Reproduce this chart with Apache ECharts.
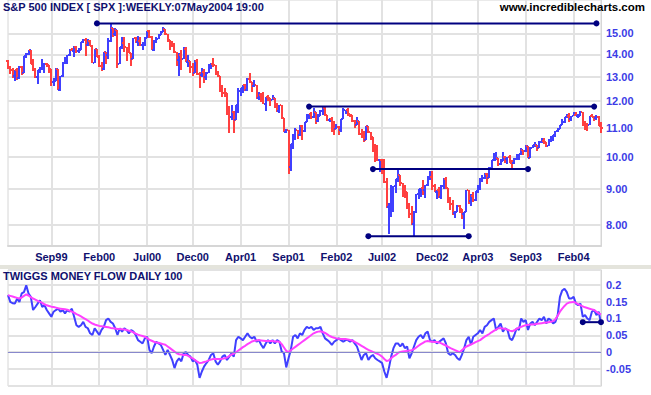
<!DOCTYPE html>
<html><head><meta charset="utf-8">
<script src="https://cdn.jsdelivr.net/npm/echarts@6/dist/echarts.min.js"></script>
<style>html,body{margin:0;padding:0;background:#fff}#c{width:651px;height:395px}</style>
</head><body><div id="c"></div><script>
// ---- data (S&P 500 weekly, shown in hundreds) ----
const firstWeek = '1999-05-14';
const weekCount = 261;
const open = [13.70,13.38,13.30,13.02,13.28,12.94,13.43,13.15,13.91,14.03,14.19,13.57,13.29,13.00,13.28,13.37,13.48,13.57,13.52,13.35,12.77,12.83,13.36,12.47,13.02,13.63,13.70,13.96,14.22,14.17,14.33,14.17,14.21,14.58,
14.69,14.42,14.65,14.41,13.60,14.24,13.87,13.46,13.33,14.09,13.95,14.65,15.28,14.99,15.16,13.57,14.35,14.52,14.33,14.21,14.07,13.78,14.77,14.57,14.65,14.42,14.55,14.79,15.10,14.80,14.20,14.63,14.72,14.92,15.07,15.21,14.95,14.66,14.49,14.37,14.09,13.74,13.97,13.80,14.27,13.66,13.68,13.42,13.15,13.70,13.12,13.06,
13.20,12.98,13.18,13.42,13.55,13.50,13.15,13.02,12.46,12.34,12.33,11.51,11.40,11.60,11.28,11.84,12.43,12.53,12.67,12.46,12.92,12.78,12.61,12.65,12.14,12.25,12.24,11.91,12.16,12.11,12.06,12.14,11.90,11.62,11.85,11.34,10.86,10.93,9.66,10.41,10.71,10.92,10.74,11.05,10.87,11.20,11.39,11.50,11.39,11.58,11.23,11.45,
11.61,11.72,11.46,11.28,11.33,11.22,10.96,11.04,10.90,11.32,11.64,11.66,11.49,11.47,11.23,11.11,11.25,10.76,10.73,10.55,11.07,10.84,10.67,10.28,10.07,9.89,9.90,9.89,9.21,8.48,8.53,8.64,9.09,9.29,9.41,9.16,8.94,8.90,8.45,8.27,8.01,8.35,8.84,8.98,9.01,8.95,9.10,9.31,9.36,9.07,8.90,8.96,
8.75,9.09,9.28,9.02,8.61,8.56,8.30,8.35,8.51,8.41,8.29,8.33,8.96,8.64,8.79,8.68,8.94,8.99,9.30,9.33,9.44,9.33,9.64,9.88,9.89,9.96,9.76,9.86,9.98,9.93,9.99,9.80,9.78,9.91,9.93,10.08,10.21,10.19,10.36,9.97,10.30,10.38,10.39,10.29,10.51,10.53,10.50,10.35,10.58,10.62,10.74,10.89,
10.96,11.09,11.22,11.40,11.42,11.31,11.43,11.46,11.44,11.45,11.57,11.21,11.10,11.08,11.42,11.39,11.35,11.41,11.07];
const high = [13.76,13.47,13.40,13.30,13.40,13.49,13.49,13.93,14.06,14.21,14.19,13.80,13.38,13.30,13.45,13.80,13.60,13.62,13.53,13.35,12.95,13.37,13.36,13.05,13.65,13.87,13.98,14.24,14.30,14.40,14.38,14.28,14.60,14.73,
14.78,14.73,14.66,14.42,14.25,14.27,13.95,13.67,14.10,14.09,14.77,15.53,15.28,15.27,15.16,14.35,14.83,14.81,14.33,14.55,14.07,14.78,14.80,14.88,14.80,14.58,14.80,15.12,15.17,14.85,14.66,14.80,14.97,15.12,15.30,15.21,14.95,14.66,14.65,14.54,14.09,14.08,14.18,14.33,14.34,13.95,13.68,13.60,13.76,13.80,13.20,13.40,
13.35,13.20,13.55,13.60,13.84,13.52,13.27,13.02,12.67,12.54,12.33,11.80,11.85,11.61,11.84,12.53,12.54,12.67,12.70,12.95,13.15,12.78,12.86,12.65,12.35,12.34,12.36,12.18,12.25,12.12,12.26,12.14,11.92,11.86,11.85,11.35,10.96,10.93,10.41,10.76,10.99,10.93,11.11,11.10,11.21,11.50,11.52,11.57,11.73,11.58,11.50,11.64,
11.76,11.76,11.47,11.37,11.40,11.23,11.13,11.05,11.32,11.73,11.67,11.73,11.52,11.47,11.29,11.39,11.26,10.94,10.88,11.07,11.07,10.86,10.68,10.42,10.40,9.93,9.94,9.92,9.33,8.58,9.12,9.09,9.30,9.65,9.42,9.16,9.12,8.91,8.58,8.49,8.36,8.85,8.98,9.01,9.25,9.11,9.38,9.55,9.54,9.14,8.97,9.05,
9.11,9.32,9.35,9.02,8.75,8.66,8.36,8.54,8.52,8.42,8.35,8.96,8.96,8.85,8.90,8.94,9.12,9.31,9.40,9.47,9.48,9.66,9.90,10.12,10.15,9.96,9.94,10.15,10.02,10.00,10.05,9.90,9.95,10.10,10.08,10.30,10.22,10.40,10.36,10.33,10.40,10.48,10.40,10.53,10.62,10.63,10.50,10.60,10.71,10.75,10.89,10.98,
11.11,11.31,11.41,11.51,11.56,11.43,11.59,11.58,11.51,11.63,11.58,11.24,11.16,11.44,11.51,11.43,11.48,11.43,11.19];
const low = [13.33,13.12,12.97,12.81,12.86,12.90,13.08,13.15,13.85,13.98,13.55,13.24,12.94,12.68,13.18,13.30,13.16,13.45,13.18,12.62,12.60,12.82,12.45,12.40,13.00,13.55,13.55,13.93,14.14,13.86,14.04,14.04,14.19,14.54,
13.92,14.38,14.40,13.59,13.60,13.86,13.45,13.25,13.31,13.55,13.80,14.60,14.84,14.86,13.39,13.57,14.25,14.13,13.68,14.04,13.46,13.78,14.52,14.39,14.40,14.22,14.40,14.78,14.77,14.18,14.14,14.53,14.71,14.90,15.05,14.92,14.60,14.20,14.32,14.05,13.47,13.05,13.30,13.80,13.64,13.42,13.16,13.05,13.15,13.10,12.54,13.00,
12.75,12.88,13.16,13.35,13.45,13.10,12.98,12.37,12.15,12.18,11.48,10.81,11.30,10.81,11.27,11.55,12.20,12.32,12.40,12.40,12.75,12.35,12.56,12.10,12.05,11.97,11.90,11.63,12.00,11.83,12.05,11.75,11.60,11.55,11.32,10.85,10.81,9.45,9.55,10.27,10.56,10.61,10.71,10.55,10.85,11.20,11.31,11.33,11.35,11.15,11.20,11.43,
11.48,11.42,11.23,11.21,10.83,10.75,10.95,10.75,10.85,11.31,11.50,11.45,11.40,11.20,11.00,11.10,10.75,10.63,10.48,10.55,10.80,10.55,10.17,9.82,9.85,9.52,9.46,9.17,8.46,7.75,8.20,8.34,8.86,9.19,9.07,8.75,8.73,8.43,8.17,7.98,7.68,8.30,8.70,8.77,8.82,8.72,9.08,9.27,8.95,8.89,8.71,8.73,
8.69,9.00,9.00,8.60,8.40,8.26,8.17,8.33,8.31,8.15,7.89,8.33,8.55,8.50,8.62,8.65,8.88,8.96,9.19,9.28,9.15,9.33,9.60,9.85,9.88,9.70,9.72,9.85,9.80,9.76,9.78,9.60,9.76,9.90,9.90,10.04,10.05,10.17,9.96,9.95,10.28,10.32,10.18,10.29,10.45,10.44,10.31,10.35,10.50,10.53,10.68,10.85,
10.96,11.08,11.18,11.37,11.22,11.24,11.42,11.42,11.36,11.43,11.06,10.91,10.87,11.08,11.38,11.25,11.30,11.07,10.80];
const close = [13.38,13.30,13.02,13.28,12.94,13.43,13.15,13.91,14.03,14.19,13.57,13.29,13.00,13.28,13.37,13.48,13.57,13.52,13.35,12.77,12.83,13.36,12.47,13.02,13.63,13.70,13.96,14.22,14.17,14.33,14.17,14.21,14.58,14.69,
14.42,14.65,14.41,13.60,14.24,13.87,13.46,13.33,14.09,13.95,14.65,15.28,14.99,15.16,13.57,14.35,14.52,14.33,14.21,14.07,13.78,14.77,14.57,14.65,14.42,14.55,14.79,15.10,14.80,14.20,14.63,14.72,14.92,15.07,15.21,14.95,14.66,14.49,14.37,14.09,13.74,13.97,13.80,14.27,13.66,13.68,13.42,13.15,13.70,13.12,13.06,13.20,
12.98,13.18,13.42,13.55,13.50,13.15,13.02,12.46,12.34,12.33,11.51,11.40,11.60,11.28,11.84,12.43,12.53,12.67,12.46,12.92,12.78,12.61,12.65,12.14,12.25,12.24,11.91,12.16,12.11,12.06,12.14,11.90,11.62,11.85,11.34,10.86,10.93,9.66,10.41,10.71,10.92,10.74,11.05,10.87,11.20,11.39,11.50,11.39,11.58,11.23,11.45,11.61,
11.72,11.46,11.28,11.33,11.22,10.96,11.04,10.90,11.32,11.64,11.66,11.49,11.47,11.23,11.11,11.25,10.76,10.73,10.55,11.07,10.84,10.67,10.28,10.07,9.89,9.90,9.89,9.21,8.48,8.53,8.64,9.09,9.29,9.41,9.16,8.94,8.90,8.45,8.27,8.01,8.35,8.84,8.98,9.01,8.95,9.10,9.31,9.36,9.07,8.90,8.96,8.75,
9.09,9.28,9.02,8.61,8.56,8.30,8.35,8.51,8.41,8.29,8.33,8.96,8.64,8.79,8.68,8.94,8.99,9.30,9.33,9.44,9.33,9.64,9.88,9.89,9.96,9.76,9.86,9.98,9.93,9.99,9.80,9.78,9.91,9.93,10.08,10.21,10.19,10.36,9.97,10.30,10.38,10.39,10.29,10.51,10.53,10.50,10.35,10.58,10.62,10.74,10.89,10.96,
11.09,11.22,11.40,11.42,11.31,11.43,11.46,11.44,11.45,11.57,11.21,11.10,11.08,11.42,11.39,11.35,11.41,11.07,10.99];
// Twiggs Money Flow (one reading per week) and its moving average
const tmf = [0.169,0.149,0.145,0.144,0.159,0.149,0.174,0.178,0.198,0.174,0.164,0.125,0.134,0.144,0.154,0.134,0.139,0.125,0.115,0.105,0.120,0.125,0.129,0.120,0.125,0.115,0.125,0.120,0.129,0.105,
0.080,0.075,0.080,0.090,0.075,0.071,0.056,0.051,0.071,0.061,0.051,0.066,0.075,0.095,0.100,0.090,0.085,0.071,0.051,0.071,0.061,0.071,0.066,0.056,0.066,0.061,0.051,0.036,0.031,0.026,
0.041,0.046,0.007,-0.003,0.017,0.031,0.026,0.022,0.007,-0.008,0.007,-0.008,-0.023,-0.047,-0.027,-0.018,-0.027,-0.003,0.000,-0.008,-0.013,-0.027,-0.023,-0.037,-0.076,-0.057,-0.042,-0.032,-0.023,-0.008,
-0.003,-0.027,-0.037,-0.027,-0.013,-0.008,-0.023,-0.013,-0.003,-0.013,0.036,0.046,0.041,0.036,0.046,0.056,0.046,0.041,0.046,0.031,0.036,0.022,0.012,0.026,0.036,0.026,0.036,0.026,0.036,0.031,
0.002,-0.003,-0.045,-0.018,0.007,0.046,0.051,0.041,0.056,0.051,0.066,0.075,0.071,0.075,0.066,0.071,0.071,0.075,0.056,0.041,0.036,0.030,0.022,0.031,0.036,0.041,0.036,0.031,0.036,0.036,
0.031,0.036,0.026,0.017,-0.003,-0.023,-0.008,-0.003,-0.023,-0.013,-0.008,-0.018,-0.023,-0.027,-0.032,-0.057,-0.076,-0.047,-0.013,0.012,0.026,0.026,0.017,0.026,0.012,0.017,-0.018,-0.003,0.017,0.036,
0.046,0.051,0.041,0.056,0.061,0.036,0.031,0.036,0.026,0.031,0.036,0.041,0.026,-0.003,-0.008,-0.003,-0.008,-0.018,-0.023,-0.008,0.012,0.036,0.046,0.022,0.046,0.051,0.056,0.066,0.056,0.075,
0.080,0.090,0.095,0.100,0.066,0.075,0.085,0.061,0.071,0.066,0.041,0.036,0.051,0.071,0.066,0.100,0.090,0.095,0.066,0.085,0.090,0.080,0.090,0.100,0.095,0.105,0.085,0.100,0.095,0.085,
0.090,0.110,0.164,0.183,0.188,0.178,0.159,0.159,0.164,0.144,0.139,0.144,0.105,0.110,0.100,0.095,0.120,0.125,0.110,0.120,0.085];
const tmfMA = [0.169,0.167,0.165,0.163,0.161,0.159,0.162,0.167,0.171,0.168,0.163,0.159,0.156,0.152,0.149,0.146,0.142,0.139,0.137,0.135,0.134,0.132,0.130,0.129,0.128,0.127,0.126,0.123,0.120,0.117,
0.113,0.110,0.106,0.102,0.098,0.094,0.089,0.085,0.082,0.080,0.078,0.077,0.076,0.075,0.074,0.072,0.071,0.070,0.069,0.069,0.068,0.067,0.066,0.064,0.062,0.059,0.055,0.052,0.050,0.048,
0.046,0.042,0.037,0.034,0.031,0.029,0.028,0.026,0.024,0.022,0.017,0.012,0.007,0.002,-0.003,-0.006,-0.007,-0.008,-0.008,-0.011,-0.015,-0.018,-0.023,-0.028,-0.032,-0.031,-0.029,-0.027,-0.024,-0.022,
-0.020,-0.020,-0.020,-0.020,-0.019,-0.018,-0.016,-0.011,-0.007,-0.004,0.000,0.005,0.010,0.015,0.019,0.024,0.028,0.032,0.034,0.035,0.036,0.035,0.034,0.033,0.033,0.033,0.033,0.032,0.032,0.031,
0.024,0.014,0.004,0.000,0.006,0.011,0.016,0.021,0.026,0.031,0.036,0.041,0.046,0.051,0.056,0.059,0.061,0.062,0.060,0.057,0.053,0.048,0.045,0.043,0.041,0.040,0.039,0.039,0.039,0.038,
0.036,0.034,0.031,0.027,0.023,0.019,0.015,0.011,0.007,0.004,0.001,-0.002,-0.005,-0.008,-0.013,-0.020,-0.026,-0.024,-0.018,-0.012,-0.008,-0.002,0.001,0.002,0.003,0.004,0.005,0.006,0.009,0.014,
0.019,0.024,0.028,0.032,0.033,0.032,0.031,0.030,0.030,0.029,0.026,0.023,0.020,0.016,0.012,0.009,0.006,0.003,0.000,0.006,0.012,0.017,0.020,0.023,0.026,0.030,0.033,0.036,0.041,0.046,
0.050,0.054,0.059,0.063,0.067,0.071,0.071,0.070,0.069,0.067,0.064,0.062,0.065,0.069,0.073,0.075,0.078,0.080,0.081,0.082,0.082,0.083,0.084,0.085,0.086,0.087,0.088,0.089,0.090,0.092,
0.098,0.108,0.120,0.129,0.137,0.144,0.147,0.148,0.149,0.146,0.142,0.139,0.136,0.133,0.131,0.129,0.127,0.125,0.120,0.115,0.112];
// axis ticks
const priceTicks = [8, 9, 10, 11, 12, 13, 14, 15];
const priceRange = [7.455, 16.74];
const tmfRange = [-0.1, 0.2435];
const tmfStep = 0.05;
const tickDates = ['1999-09-24','2000-02-18','2000-07-14','2000-12-01','2001-04-27','2001-09-21','2002-02-15','2002-07-05','2002-12-06','2003-04-25','2003-09-19','2004-02-13'];
const tickLabels = ['Sep99','Feb00','Jul00','Dec00','Apr01','Sep01','Feb02','Jul02','Dec02','Apr03','Sep03','Feb04'];
// drawn support / resistance levels: [from week, to week, level]
const priceLevels = [
  ['2000-02-11','2004-04-23',15.50],
  ['2001-11-23','2004-04-16',11.79],
  ['2002-06-07','2003-09-26',9.60],
  ['2002-05-24','2003-03-28',7.70]
];
const tmfLevels = [['2004-03-12','2004-05-07',0.089]];

// ---- build ----
const weeks = [];
(function(){ const d0 = new Date(firstWeek + 'T00:00:00Z'); for (let i = 0; i < weekCount; i++) { weeks.push(new Date(d0.getTime() + i*7*86400000).toISOString().slice(0,10)); } })();
const lg = Math.log10;
const ohlc = weeks.map((w, i) => [i, lg(open[i]), lg(high[i]), lg(low[i]), lg(close[i])]);
const tickIndex = {};
tickDates.forEach((d, k) => { tickIndex[weeks.indexOf(d)] = tickLabels[k]; });
const isTick = (idx) => tickIndex[idx] !== undefined;

const BLUE = '#4040ff', RED = '#ff4040', NAVY = '#000080', GRID = '#e2e2e2', FRAME = '#d6d6d6';
const FONT = '"Liberation Sans", Arial, sans-serif';

const series = [{
  type: 'custom', xAxisIndex: 0, yAxisIndex: 0, data: ohlc, encode: {x: 0, y: [1, 2, 3, 4]}, z: 3,
  renderItem: function (params, api) {
    const i = api.value(0);
    const pH = api.coord([i, api.value(2)]), pL = api.coord([i, api.value(3)]);
    const pO = api.coord([i, api.value(1)]), pC = api.coord([i, api.value(4)]);
    const cx = Math.round(pH[0]);
    const col = api.value(4) >= api.value(1) ? BLUE : RED;
    return {type: 'group', children: [
      {type: 'rect', shape: {x: cx - 1, y: Math.round(pH[1]), width: 2, height: Math.max(1, Math.round(pL[1]) - Math.round(pH[1]))}, style: {fill: col}},
      {type: 'rect', shape: {x: cx - 2, y: Math.round(pO[1]) - 1, width: 1, height: 2}, style: {fill: col}},
      {type: 'rect', shape: {x: cx + 1, y: Math.round(pC[1]) - 1, width: 1, height: 2}, style: {fill: col}}
    ]};
  }
}];
const levelLine = (xi, yi, from, to, val) => ({
  type: 'line', xAxisIndex: xi, yAxisIndex: yi, z: 5, silent: true,
  data: [[from, val], [to, val]],
  symbol: 'circle', symbolSize: 6, showSymbol: true, showAllSymbol: true,
  lineStyle: {color: NAVY, width: 2}, itemStyle: {color: NAVY}
});
priceLevels.forEach(l => series.push(levelLine(0, 0, l[0], l[1], lg(l[2]))));
series.push({
  type: 'line', xAxisIndex: 1, yAxisIndex: 1, data: tmf, showSymbol: false, z: 3,
  lineStyle: {color: BLUE, width: 2}, itemStyle: {color: BLUE},
  markLine: {silent: true, symbol: 'none', label: {show: false}, lineStyle: {color: '#8888cc', width: 1, type: 'solid'}, data: [{yAxis: 0}]}
});
series.push({
  type: 'line', xAxisIndex: 1, yAxisIndex: 1, data: tmfMA, showSymbol: false, z: 4,
  lineStyle: {color: '#ff40ff', width: 2}, itemStyle: {color: '#ff40ff'}
});
tmfLevels.forEach(l => series.push(levelLine(1, 1, l[0], l[1], l[2])));

const xCommon = {
  type: 'category', data: weeks, boundaryGap: false,
  axisTick: {show: false},
  splitLine: {show: true, interval: (idx) => isTick(idx), lineStyle: {color: GRID, width: 2}}
};

const option = {
  animation: false,
  backgroundColor: '#ffffff',
  title: [
    {text: 'S&P 500 INDEX [ SPX ]:WEEKLY:07May2004 19:00', left: 3, top: 1, padding: 0,
     textStyle: {color: '#10106e', fontWeight: 'bold', fontSize: 11, fontFamily: FONT}},
    {text: 'www.incrediblecharts.com', right: 6, top: 1, padding: 0,
     textStyle: {color: '#000000', fontWeight: 'bold', fontSize: 11.5, fontFamily: FONT}},
    {text: 'TWIGGS MONEY FLOW DAILY 100', left: 3, top: 270, padding: 0,
     textStyle: {color: '#10106e', fontWeight: 'bold', fontSize: 11, fontFamily: FONT}}
  ],
  graphic: [{type: 'rect', left: 0, top: 265, shape: {width: 651, height: 4}, style: {fill: '#e4e4dc'}, z: -1}],
  grid: [
    {left: 8, right: 50, top: 0, height: 246, show: true, borderColor: FRAME, borderWidth: 1},
    {left: 8, right: 50, top: 270, height: 116, show: true, borderColor: FRAME, borderWidth: 1}
  ],
  xAxis: [
    Object.assign({}, xCommon, {gridIndex: 0,
      axisLine: {show: true, lineStyle: {color: FRAME, width: 2}},
      axisLabel: {show: true, interval: (idx) => isTick(idx), formatter: (v, idx) => tickIndex[idx] || '',
        color: '#10106e', fontWeight: 'bold', fontSize: 11, fontFamily: FONT, margin: 5}}),
    Object.assign({}, xCommon, {gridIndex: 1,
      axisLine: {show: true, lineStyle: {color: FRAME, width: 1}},
      axisLabel: {show: false}})
  ],
  yAxis: [
    {type: 'value', gridIndex: 0, position: 'right', min: lg(priceRange[0]), max: lg(priceRange[1]),
     axisLine: {show: true, lineStyle: {color: FRAME, width: 1}},
     axisTick: {show: false, customValues: priceTicks.map(lg)},
     axisLabel: {customValues: priceTicks.map(lg), formatter: (v) => Math.pow(10, v).toFixed(2),
       color: '#3c3ce6', fontWeight: 'bold', fontSize: 11, fontFamily: FONT, margin: 5},
     splitLine: {show: true, lineStyle: {color: GRID, width: 2}}},
    {type: 'value', gridIndex: 1, position: 'right', min: tmfRange[0], max: tmfRange[1], interval: tmfStep,
     axisLine: {show: true, lineStyle: {color: FRAME, width: 1}},
     axisTick: {show: false},
     axisLabel: {showMinLabel: false, showMaxLabel: false, formatter: (v) => String(parseFloat(v.toFixed(2))),
       color: '#3c3ce6', fontWeight: 'bold', fontSize: 11, fontFamily: FONT, margin: 5},
     splitLine: {show: true, lineStyle: {color: GRID, width: 2}}}
  ],
  series: series
};
const chart = echarts.init(document.getElementById('c'), null, {renderer: 'svg'});
chart.setOption(option);
</script></body></html>
